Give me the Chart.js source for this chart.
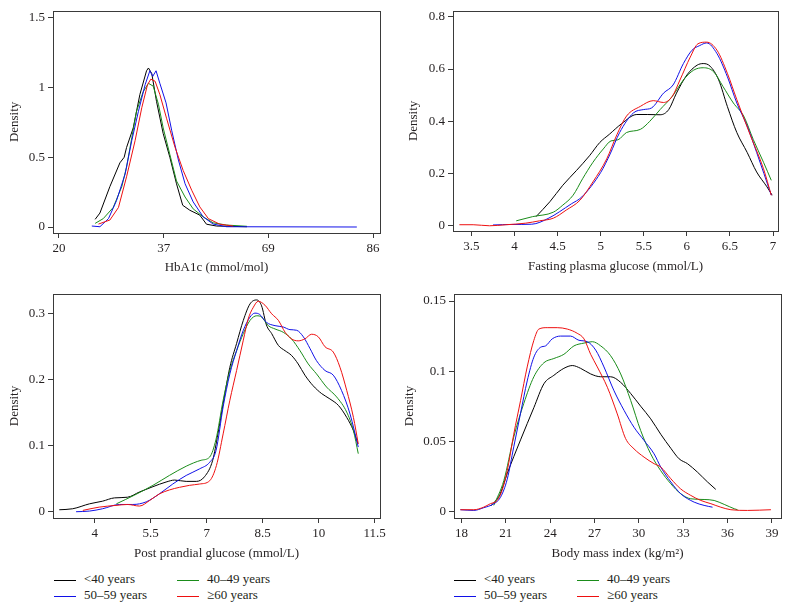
<!DOCTYPE html>
<html>
<head>
<meta charset="utf-8">
<script src="https://cdn.jsdelivr.net/npm/chart.js@4.4.0/dist/chart.umd.min.js"></script>
<style>
  body { margin: 0; background: #fff; width: 789px; height: 611px; position: relative; overflow: hidden;
         font-family: 'Liberation Serif', serif; color: #231f20; }
  canvas { position: absolute; }
  .key { position: absolute; white-space: nowrap; font-size: 13px; line-height: 16px; }
  .key i { display: inline-block; width: 22px; height: 0; border-top: 1px solid; vertical-align: middle; margin-right: 8px; }
</style>
</head>
<body>
<canvas id="hba1c-chart" width="395" height="275" style="left:0;top:0"></canvas>
<canvas id="fpg-chart" width="394" height="274" style="left:395px;top:0"></canvas>
<canvas id="ppg-chart" width="395" height="281" style="left:0;top:280px"></canvas>
<canvas id="bmi-chart" width="394" height="281" style="left:395px;top:280px"></canvas>

<div class="key" style="left:54px;top:571px"><i style="color:#000"></i>&lt;40 years</div>
<div class="key" style="left:177px;top:571px"><i style="color:#1a8c1a"></i>40–49 years</div>
<div class="key" style="left:54px;top:587px"><i style="color:#1010e8"></i>50–59 years</div>
<div class="key" style="left:177px;top:587px"><i style="color:#ee1010"></i>≥60 years</div>

<div class="key" style="left:454px;top:571px"><i style="color:#000"></i>&lt;40 years</div>
<div class="key" style="left:577px;top:571px"><i style="color:#1a8c1a"></i>40–49 years</div>
<div class="key" style="left:454px;top:587px"><i style="color:#1010e8"></i>50–59 years</div>
<div class="key" style="left:577px;top:587px"><i style="color:#ee1010"></i>≥60 years</div>

<script>
const BLACK = '#000000';
const GREEN = '#1a8c1a';
const BLUE = '#1010e8';
const RED = '#ee1010';
const FRAME_COLOUR = '#3a3a3a';
const TEXT_COLOUR = '#231f20';
const FONT = { family: "'Liberation Serif', serif", size: 13 };

const groupNames = ['<40 years', '40–49 years', '50–59 years', '≥60 years'];
const groupColours = [BLACK, GREEN, BLUE, RED];

// HbA1c (mmol/mol) densities, [x, density]
const hba1cLt40 = [[27.6,0.055],[28.6,0.10],[30.7,0.29],[32.8,0.46],[33.7,0.50],[34.2,0.57],[35.6,0.71],[37.0,0.95],
    [38.4,1.12],[38.8,1.14],[39.5,1.10],[40.5,0.90],[41.9,0.67],[43.3,0.50],[44.7,0.31],[46.0,0.156],[47.5,0.12],
    [49.6,0.085],[51.0,0.02],[53.1,0.007],[59.5,0.002]];
const hba1c4049 = [[27.6,0.026],[29.3,0.06],[31.4,0.14],[33.2,0.29],[34.2,0.43],[35.3,0.64],[36.3,0.83],[37.7,0.97],
    [38.8,1.03],[39.8,1.01],[40.9,0.88],[41.9,0.71],[43.3,0.52],[44.7,0.33],[46.5,0.215],[48.2,0.13],[50.3,0.073],
    [52.4,0.03],[55.2,0.014],[59.5,0.005]];
const hba1c5059 = [[26.9,0.007],[28.6,0.002],[30.4,0.06],[32.1,0.19],[33.9,0.38],[35.3,0.62],[36.7,0.83],[38.1,1.02],
    [39.1,1.12],[39.7,1.08],[40.4,1.12],[41.2,1.03],[42.5,0.89],[43.7,0.69],[45.1,0.48],[46.5,0.31],[48.2,0.18],
    [50.3,0.073],[52.4,0.021],[55.2,0.002],[82.6,0]];
const hba1c60 = [[28.3,0.021],[30.7,0.05],[32.5,0.14],[34.2,0.36],[36.0,0.62],[37.4,0.855],[38.6,1.02],[39.3,1.06],
    [40.2,1.045],[41.2,0.95],[42.6,0.78],[44.4,0.57],[46.1,0.405],[47.9,0.263],[49.6,0.144],[51.4,0.06],[53.8,0.02],
    [56.6,0.007]];

// fasting plasma glucose (mmol/L)
const fpgLt40 = [[4.25,0.035],[4.41,0.092],[4.56,0.155],[4.72,0.212],[4.87,0.268],[4.99,0.319],[5.10,0.35],[5.24,0.39],
    [5.42,0.426],[5.54,0.426],[5.69,0.425],[5.79,0.445],[5.88,0.508],[6.0,0.577],[6.12,0.615],[6.19,0.621],[6.27,0.611],
    [6.37,0.558],[6.47,0.457],[6.58,0.357],[6.70,0.281],[6.81,0.206],[6.93,0.149],[6.99,0.117]];
const fpg4049 = [[4.02,0.019],[4.21,0.035],[4.45,0.052],[4.56,0.079],[4.68,0.117],[4.79,0.18],[4.91,0.243],[5.03,0.294],
    [5.12,0.325],[5.20,0.329],[5.30,0.357],[5.46,0.369],[5.57,0.40],[5.69,0.445],[5.83,0.495],[5.96,0.558],[6.08,0.596],
    [6.19,0.605],[6.31,0.59],[6.42,0.533],[6.54,0.47],[6.66,0.42],[6.77,0.331],[6.89,0.243],[6.98,0.174]];
const fpg5059 = [[3.75,0.003],[3.97,0.005],[4.2,0.006],[4.39,0.028],[4.66,0.084],[4.78,0.11],[5.0,0.204],[5.11,0.275],
    [5.22,0.357],[5.38,0.432],[5.5,0.445],[5.59,0.451],[5.73,0.508],[5.84,0.539],[5.96,0.621],[6.06,0.672],[6.15,0.69],
    [6.23,0.70],[6.35,0.659],[6.47,0.571],[6.58,0.47],[6.70,0.382],[6.81,0.281],[6.98,0.117]];
const fpg60 = [[3.36,0.004],[3.52,0.004],[3.71,0],[3.90,0.004],[4.13,0.01],[4.29,0.019],[4.45,0.029],[4.60,0.06],
    [4.76,0.098],[4.91,0.168],[5.07,0.256],[5.19,0.35],[5.30,0.42],[5.46,0.457],[5.61,0.479],[5.73,0.472],[5.83,0.495],
    [5.92,0.558],[6.04,0.646],[6.13,0.697],[6.23,0.703],[6.35,0.672],[6.47,0.584],[6.58,0.483],[6.74,0.344],
    [6.89,0.218],[6.98,0.117]];

// post prandial glucose (mmol/L)
const ppgLt40 = [[3.05,0.003],[3.41,0.0045],[3.86,0.012],[4.21,0.016],[4.53,0.021],[4.88,0.022],[5.20,0.030],[5.56,0.038],
    [5.91,0.045],[6.14,0.048],[6.45,0.046],[6.72,0.046],[6.94,0.053],[7.16,0.078],[7.30,0.118],[7.44,0.164],[7.62,0.219],
    [7.80,0.255],[7.98,0.29],[8.16,0.315],[8.34,0.321],[8.47,0.312],[8.60,0.283],[8.74,0.27],[8.92,0.252],[9.10,0.244],
    [9.27,0.237],[9.45,0.224],[9.63,0.207],[9.85,0.191],[10.08,0.179],[10.30,0.171],[10.53,0.161],[10.75,0.143],
    [10.93,0.123],[11.05,0.103]];
const ppg4049 = [[4.58,0.012],[5.06,0.025],[5.56,0.04],[6.0,0.055],[6.45,0.069],[6.85,0.078],[7.08,0.083],[7.25,0.11],
    [7.44,0.169],[7.62,0.214],[7.80,0.244],[7.98,0.27],[8.16,0.29],[8.34,0.297],[8.47,0.295],[8.65,0.282],[8.83,0.277],
    [9.05,0.272],[9.27,0.262],[9.50,0.244],[9.72,0.224],[9.94,0.209],[10.21,0.189],[10.48,0.174],[10.75,0.151],
    [10.93,0.123],[11.06,0.088]];
const ppg5059 = [[3.5,0.0],[3.86,0.001],[4.21,0.0045],[4.66,0.011],[5.02,0.011],[5.38,0.015],[5.73,0.027],[6.09,0.042],
    [6.45,0.055],[6.81,0.065],[7.08,0.075],[7.25,0.093],[7.44,0.159],[7.62,0.209],[7.80,0.244],[7.98,0.275],[8.16,0.295],
    [8.29,0.301],[8.42,0.299],[8.60,0.287],[8.83,0.282],[9.05,0.28],[9.23,0.276],[9.41,0.275],[9.59,0.265],[9.77,0.247],
    [9.94,0.229],[10.17,0.214],[10.39,0.207],[10.61,0.184],[10.84,0.148],[11.06,0.098]];
const ppg60 = [[3.68,0.002],[4.12,0.007],[4.57,0.0096],[4.88,0.011],[5.20,0.0086],[5.47,0.017],[5.73,0.027],[6.0,0.033],
    [6.27,0.037],[6.54,0.04],[6.81,0.042],[7.08,0.047],[7.26,0.07],[7.44,0.118],[7.62,0.169],[7.80,0.214],[7.98,0.26],
    [8.11,0.292],[8.25,0.31],[8.38,0.319],[8.56,0.313],[8.74,0.30],[8.92,0.29],[9.10,0.272],[9.27,0.262],[9.45,0.259],
    [9.63,0.262],[9.81,0.269],[9.99,0.265],[10.17,0.25],[10.39,0.242],[10.57,0.219],[10.75,0.184],[10.93,0.143],
    [11.06,0.103]];

// body mass index (kg/m2)
const bmiLt40 = [[20.0,0.004],[20.6,0.012],[21.1,0.027],[22.0,0.051],[22.9,0.074],[23.58,0.091],[24.25,0.097],
    [24.93,0.102],[25.5,0.104],[26.06,0.102],[26.74,0.098],[27.42,0.096],[28.09,0.096],[28.77,0.092],[29.45,0.084],
    [30.12,0.075],[30.8,0.066],[31.48,0.055],[32.16,0.045],[32.72,0.0375],[33.29,0.034],[33.96,0.028],[34.64,0.021],
    [35.2,0.0157]];
const bmi4049 = [[20.19,0.0043],[20.87,0.022],[21.54,0.053],[22.22,0.077],[22.9,0.096],[23.58,0.106],[24.25,0.109],
    [24.93,0.112],[25.61,0.118],[26.29,0.12],[26.85,0.121],[27.42,0.118],[28.09,0.111],[28.77,0.098],[29.45,0.079],
    [30.12,0.0577],[30.8,0.041],[31.48,0.029],[32.16,0.0197],[32.83,0.0126],[33.51,0.009],[34.41,0.0085],
    [35.09,0.0078],[35.77,0.005],[36.45,0.0019],[36.67,0.0012]];
const bmi5059 = [[17.93,0.0012],[18.84,0.0007],[19.5,0.0026],[20.2,0.0055],[20.64,0.01],[21.1,0.023],[21.54,0.046],
    [22.0,0.07],[22.45,0.093],[22.9,0.11],[23.35,0.117],[23.69,0.118],[24.14,0.123],[24.7,0.125],[25.38,0.125],
    [25.95,0.122],[26.51,0.121],[27.08,0.115],[27.64,0.103],[28.32,0.086],[29.0,0.072],[29.67,0.060],[30.35,0.0506],
    [31.03,0.041],[31.48,0.0316],[32.16,0.021],[32.83,0.0126],[33.74,0.0066],[34.41,0.0043],[34.98,0.003]];
const bmi60 = [[17.93,0.0012],[18.84,0.0012],[19.5,0.003],[19.96,0.0055],[20.42,0.0078],[20.75,0.015],[21.1,0.029],
    [21.54,0.055],[22.0,0.079],[22.45,0.103],[22.9,0.122],[23.24,0.13],[23.8,0.131],[24.48,0.131],[25.16,0.13],
    [25.83,0.127],[26.29,0.123],[26.74,0.112],[27.19,0.103],[27.87,0.0885],[28.54,0.0695],[29.1,0.052],[29.67,0.0446],
    [30.35,0.0387],[31.03,0.034],[31.48,0.0316],[32.16,0.0233],[32.83,0.016],[33.51,0.0114],[34.19,0.0078],
    [34.87,0.0055],[35.54,0.003],[36.22,0.0012],[37.35,0.0007],[38.93,0.0012]];

// ticks: positions and the labels printed at them
const hba1cTicks = [20, 42, 64, 86];
const hba1cTickLabels = ['20', '37', '69', '86'];
const hba1cDensityTicks = [0, 0.5, 1, 1.5];
const fpgTicks = [3.5, 4, 4.5, 5, 5.5, 6, 6.5, 7];
const fpgDensityTicks = [0, 0.2, 0.4, 0.6, 0.8];
const ppgTicks = [4, 5.5, 7, 8.5, 10, 11.5];
const ppgDensityTicks = [0, 0.1, 0.2, 0.3];
const bmiTicks = [18, 21, 24, 27, 30, 33, 36, 39];
const bmiDensityTicks = [0, 0.05, 0.1, 0.15];

/**
 * Draws the box round the plot area
 */
const framePlugin = {
    id: 'frame',
    afterDraw(chart) {
        const { ctx, chartArea } = chart;
        ctx.save();
        ctx.strokeStyle = FRAME_COLOUR;
        ctx.lineWidth = 1;
        ctx.strokeRect(Math.round(chartArea.left) + 0.5, Math.round(chartArea.top) + 0.5,
            Math.round(chartArea.right - chartArea.left), Math.round(chartArea.bottom - chartArea.top));
        ctx.restore();
    }
};

window.onload = onInit;

function onInit() {
    buildDensityChart('hba1c-chart', [hba1cLt40, hba1c4049, hba1c5059, hba1c60], {
        xTitle: 'HbA1c (mmol/mol)', xMin: 18.74, xMax: 87.47, xTicks: hba1cTicks, xLabels: hba1cTickLabels,
        yMin: -0.043, yMax: 1.55, yTicks: hba1cDensityTicks,
        padding: { left: 7, top: 9, right: 15, bottom: 0 }, yWidth: 46, xHeight: 42, tension: 0
    });
    buildDensityChart('fpg-chart', [fpgLt40, fpg4049, fpg5059, fpg60], {
        xTitle: 'Fasting plasma glucose (mmol/L)', xMin: 3.286, xMax: 7.058, xTicks: fpgTicks,
        yMin: -0.020, yMax: 0.823, yTicks: fpgDensityTicks,
        padding: { left: 11, top: 8, right: 11, bottom: 0 }, yWidth: 47, xHeight: 43, tension: 0.4
    });
    buildDensityChart('ppg-chart', [ppgLt40, ppg4049, ppg5059, ppg60], {
        xTitle: 'Post prandial glucose (mmol/L)', xMin: 2.882, xMax: 11.642, xTicks: ppgTicks,
        yMin: -0.0095, yMax: 0.330, yTicks: ppgDensityTicks,
        padding: { left: 7, top: 14, right: 15, bottom: 0 }, yWidth: 46, xHeight: 43, tension: 0.4
    });
    buildDensityChart('bmi-chart', [bmiLt40, bmi4049, bmi5059, bmi60], {
        xTitle: 'Body mass index (kg/m²)', xMin: 17.50, xMax: 39.61, xTicks: bmiTicks,
        yMin: -0.0047, yMax: 0.155, yTicks: bmiDensityTicks,
        padding: { left: 7, top: 14, right: 8, bottom: 0 }, yWidth: 52, xHeight: 43, tension: 0.4
    });
}

/**
 * Builds one density panel
 * @param canvasId - canvas to draw on
 * @param series - the four age groups, in the order of groupNames
 * @param opts - axis ranges, ticks and sizes for this panel
 */
function buildDensityChart(canvasId, series, opts) {
    const datasets = series.map((points, index) => ({
        label: groupNames[index],
        data: points.map(p => ({ x: p[0], y: p[1] })),
        borderColor: groupColours[index],
        borderWidth: 1,
        pointRadius: 0,
        tension: opts.tension,
        cubicInterpolationMode: opts.tension ? 'monotone' : 'default',
        fill: false
    }));

    new Chart(document.getElementById(canvasId), {
        type: 'line',
        data: { datasets: datasets.reverse() },
        options: {
            responsive: false,
            animation: false,
            devicePixelRatio: 1,
            layout: { padding: opts.padding },
            plugins: { legend: { display: false }, tooltip: { enabled: false } },
            scales: {
                x: {
                    type: 'linear',
                    min: opts.xMin,
                    max: opts.xMax,
                    afterBuildTicks: scale => { scale.ticks = opts.xTicks.map(v => ({ value: v })); },
                    afterFit: scale => { scale.height = opts.xHeight; },
                    grid: { drawOnChartArea: false, drawTicks: true, tickLength: 5, color: FRAME_COLOUR },
                    border: { display: false },
                    ticks: {
                        font: FONT, color: TEXT_COLOUR, padding: 3, maxRotation: 0, autoSkip: false,
                        callback: (value, index) => opts.xLabels ? opts.xLabels[index] : String(opts.xTicks[index])
                    },
                    title: { display: true, text: opts.xTitle, font: FONT, color: TEXT_COLOUR, padding: 0 }
                },
                y: {
                    type: 'linear',
                    min: opts.yMin,
                    max: opts.yMax,
                    afterBuildTicks: scale => { scale.ticks = opts.yTicks.map(v => ({ value: v })); },
                    afterFit: scale => { scale.width = opts.yWidth; },
                    grid: { drawOnChartArea: false, drawTicks: true, tickLength: 5, color: FRAME_COLOUR },
                    border: { display: false },
                    ticks: {
                        font: FONT, color: TEXT_COLOUR, padding: 3,
                        callback: (value, index) => String(opts.yTicks[index])
                    },
                    title: { display: true, text: 'Density', font: FONT, color: TEXT_COLOUR, padding: 0 }
                }
            }
        },
        plugins: [framePlugin]
    });
}
</script>
</body>
</html>
